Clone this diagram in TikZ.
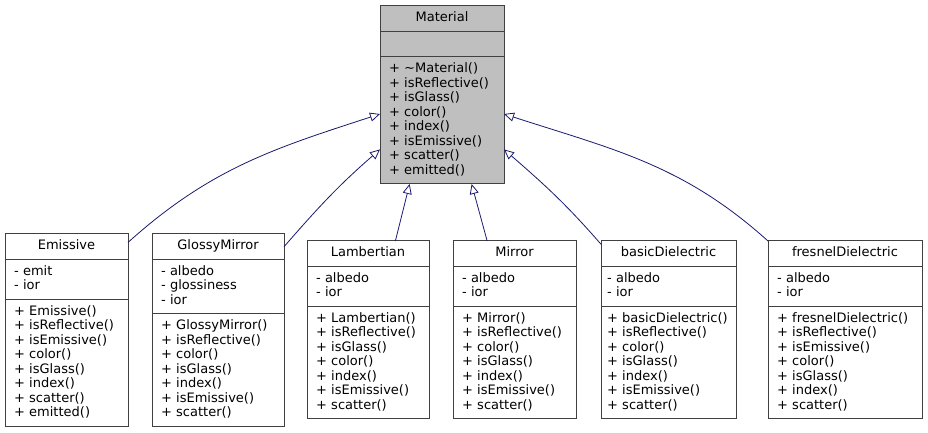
\documentclass[tikz,border=0pt]{standalone}
\usepackage{fontspec}
\setmainfont{DejaVu Sans}
\usetikzlibrary{positioning, arrows.meta}
\definecolor{boxgray}{RGB}{64,64,64}
\definecolor{basegray}{RGB}{191,191,191}
\definecolor{edgeblue}{RGB}{25,25,112}
\hyphenpenalty=10000

\begin{document}
\begin{tikzpicture}[
			x=1pt, y=1pt,
			font=\fontsize{13}{14.5}\selectfont,
			titlebox/.style={rectangle, draw=boxgray, fill=white, line width=1pt, outer sep=0pt, inner xsep=9pt, inner ysep=5.5pt, text width=#1, align=center, anchor=north west, execute at begin node=\strut, execute at end node=\strut},
			membox/.style={titlebox=#1, align=left},
			arrow/.style={-{Triangle[open, length=10pt, width=9pt]}, draw=edgeblue, line width=0.8pt}
			]
			\useasboundingbox (0,0) rectangle (928,433);
			% Base class
			\node (mat) [titlebox=106, fill=basegray] at (380,427) {Material};
			\node (matA) [membox=106, fill=basegray, below=0pt of mat] {};
			\node (matM) [membox=106, fill=basegray, below=0pt of matA] {+ \textasciitilde Material()\\+ isReflective()\\+ isGlass()\\+ color()\\+ index()\\+ isEmissive()\\+ scatter()\\+ emitted()};
			
			% Derived classes
			\node (emis) [titlebox=105] at (5,199) {Emissive};
			\node (emisA) [membox=105, below=0pt of emis] {- emit\\- ior};
			\node (emisM) [membox=105, below=0pt of emisA] {+ Emissive()\\+ isReflective()\\+ isEmissive()\\+ color()\\+ isGlass()\\+ index()\\+ scatter()\\+ emitted()};
			
			\node (glossy) [titlebox=114] at (152,199) {GlossyMirror};
			\node (glossyA) [membox=114, below=0pt of glossy] {- albedo\\- glossiness\\- ior};
			\node (glossyM) [membox=114, below=0pt of glossyA] {+ GlossyMirror()\\+ isReflective()\\+ color()\\+ isGlass()\\+ index()\\+ isEmissive()\\+ scatter()};
			
			\node (lamb) [titlebox=104] at (307,192) {Lambertian};
			\node (lambA) [membox=104, below=0pt of lamb] {- albedo\\- ior};
			\node (lambM) [membox=104, below=0pt of lambA] {+ Lambertian()\\+ isReflective()\\+ isGlass()\\+ color()\\+ index()\\+ isEmissive()\\+ scatter()};
			
			\node (mirror) [titlebox=105] at (453,192) {Mirror};
			\node (mirrorA) [membox=105, below=0pt of mirror] {- albedo\\- ior};
			\node (mirrorM) [membox=105, below=0pt of mirrorA] {+ Mirror()\\+ isReflective()\\+ color()\\+ isGlass()\\+ index()\\+ isEmissive()\\+ scatter()};
			
			\node (basic) [titlebox=123, inner xsep=6pt] at (601,192) {basicDielectric};
			\node (basicA) [membox=123, inner xsep=6pt, below=0pt of basic] {- albedo\\- ior};
			\node (basicM) [membox=123, inner xsep=6pt, below=0pt of basicA] {+ basicDielectric()\\+ isReflective()\\+ color()\\+ isGlass()\\+ index()\\+ isEmissive()\\+ scatter()};
			
			\node (fresnel) [titlebox=136] at (768,192) {fresnelDielectric};
			\node (fresnelA) [membox=136, below=0pt of fresnel] {- albedo\\- ior};
			\node (fresnelM) [membox=136, below=0pt of fresnelA] {+ fresnelDielectric()\\+ isReflective()\\+ isEmissive()\\+ color()\\+ isGlass()\\+ index()\\+ scatter()};
			
			% Inheritance arrows
			\draw [arrow] (emis.4) to[out=42, in=198] (matM.174);
			\draw [arrow] (glossy.east) to[out=49, in=221] (matM.205);
			\draw [arrow] (lamb.25) -- (matM.243);
			\draw [arrow] (mirror.155) -- (matM.295);
			\draw [arrow] (basic.172) to[out=131, in=-41] (matM.335);
			\draw [arrow] (fresnel.north west) to[out=138, in=-18] (matM.6);
		\end{tikzpicture}
\end{document}
